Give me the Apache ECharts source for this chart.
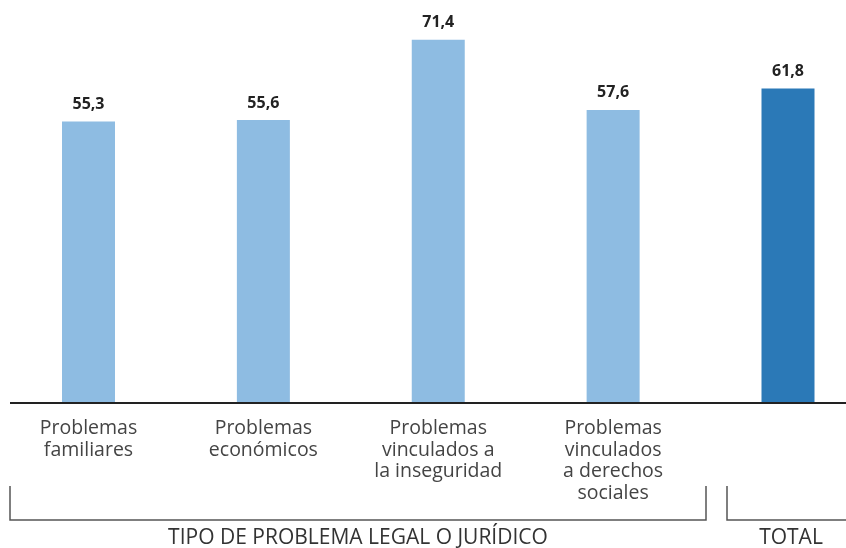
<!DOCTYPE html>
<html>
<head>
<meta charset="utf-8">
<script src="https://cdn.jsdelivr.net/npm/echarts@6/dist/echarts.min.js"></script>
<style>html,body{margin:0;padding:0;background:#fff}#c{width:846px;height:548px}</style>
</head>
<body>
<div id="c"></div>
<script>
const categories = [
  'Problemas\nfamiliares',
  'Problemas\neconómicos',
  'Problemas\nvinculados a\nla inseguridad',
  'Problemas\nvinculados\na derechos\nsociales',
  ''
];
const values = [55.3, 55.6, 71.4, 57.6, 61.8];
const groupLabels = ['TIPO DE PROBLEMA LEGAL O JURÍDICO', 'TOTAL'];

const LIGHT = '#8ebce2', DARK = '#2b79b7';
const FONT = '"Open Sans", Lato, sans-serif';

const chart = echarts.init(document.getElementById('c'), null, {renderer: 'canvas'});
chart.setOption({
  animation: false,
  grid: {left: 88.5, right: 58, top: 1, bottom: 145},
  xAxis: {
    type: 'category',
    data: categories,
    boundaryGap: false,
    axisLine: {show: false},
    axisTick: {show: false},
    splitLine: {show: false},
    axisLabel: {
      interval: 0, margin: 15, fontSize: 19.5, lineHeight: 21.5,
      color: '#444', fontFamily: FONT, align: 'center'
    }
  },
  yAxis: {
    type: 'value', min: 0, max: 79, show: false, splitLine: {show: false}
  },
  series: [{
    type: 'bar',
    barWidth: 53,
    data: values.map((v, i) => ({
      value: v,
      itemStyle: {color: i === values.length - 1 ? DARK : LIGHT}
    })),
    label: {
      show: true, position: 'top', distance: 9,
      formatter: p => p.value.toFixed(1).replace('.', ','),
      fontSize: 16, fontWeight: 'bold', color: '#222', fontFamily: FONT
    }
  }],
  graphic: [
    {type: 'line', shape: {x1: 10, y1: 403, x2: 846, y2: 403},
     style: {stroke: '#222', lineWidth: 2}, z: 10},
    {type: 'polyline', shape: {points: [[10, 486], [10, 520], [706, 520], [706, 486]]},
     style: {stroke: '#555', lineWidth: 1.5, fill: null}},
    {type: 'polyline', shape: {points: [[727, 486], [727, 520], [846, 520]]},
     style: {stroke: '#555', lineWidth: 1.5, fill: null}},
    {type: 'text', x: 358, y: 538,
     style: {text: groupLabels[0], fontSize: 21, fontFamily: FONT, fill: '#333',
             textAlign: 'center', textVerticalAlign: 'middle'}},
    {type: 'text', x: 791, y: 538,
     style: {text: groupLabels[1], fontSize: 21, fontFamily: FONT, fill: '#333',
             textAlign: 'center', textVerticalAlign: 'middle'}}
  ]
});
</script>
</body>
</html>
